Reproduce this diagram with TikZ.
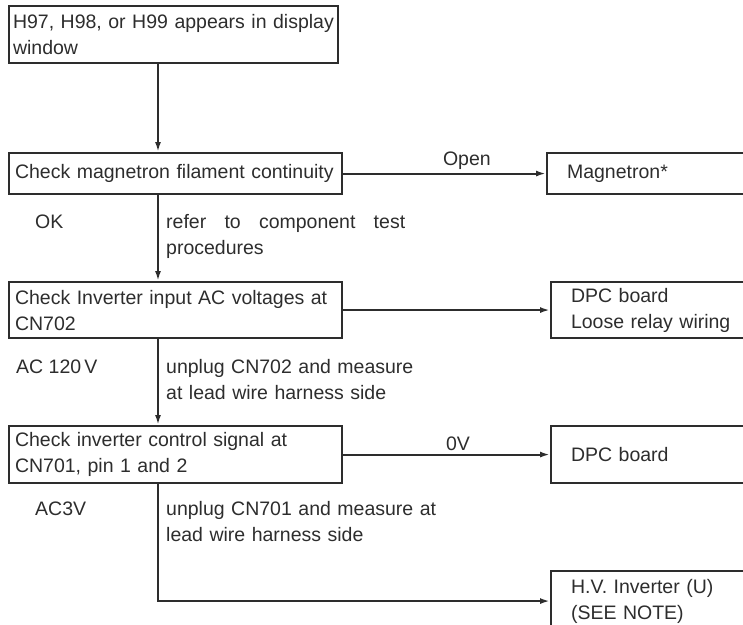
\documentclass[tikz,border=0pt]{standalone}
\usepackage{fontspec}
\setmainfont{Liberation Sans}
\usetikzlibrary{arrows.meta,positioning}
\definecolor{chartgray}{RGB}{45,45,45}

\begin{document}
\begin{tikzpicture}[x=1pt,y=-1pt,
        every node/.style={font=\fontsize{19.5}{26}\selectfont,text=chartgray},
        box/.style={draw=chartgray,line width=2.1pt,anchor=north west,
                    align=left,inner xsep=6pt,inner ysep=0pt},
        res/.style={box,inner xsep=19pt},
        note/.style={anchor=base west,align=left,inner sep=0pt},
        arr/.style={draw=chartgray,line width=2.1pt,-{Latex[length=10pt,width=6pt]}}]
      \clip (0,0) rectangle (743,624);
      \node[box,inner xsep=4pt,minimum width=329,minimum height=57,text width=321] (disp) at (8,5)
            {H97, H98, or H99 appears in display\\window};
      \node[box,minimum width=333,minimum height=41,text width=321] (fil) at (8,152)
            {Check magnetron filament continuity};
      \node[box,minimum width=333,minimum height=56,text width=321] (acv) at (8,281)
            {Check Inverter input AC voltages at\\CN702};
      \node[box,minimum width=333,minimum height=57,text width=321] (ctl) at (8,425)
            {Check inverter control signal at\\CN701, pin 1 and 2};
      \node[res,minimum width=210,minimum height=41,text width=170] (mag)  at (546,152) {Magnetron*};
      \node[res,minimum width=210,minimum height=56,text width=170] (dpca) at (550,281)
            {DPC board\\Loose relay wiring};
      \node[res,minimum width=210,minimum height=57,text width=170] (dpcb) at (550,425) {DPC board};
      \node[res,minimum width=210,minimum height=60,text width=170] (hvi)  at (550,570)
            {H.V. Inverter (U)\\(SEE NOTE)};
      % side notes
      \node[note] (ok)   at (35,228)  {OK};
      \node[note,text width=260] (refer) at (166,228)
            {\hbox to 239pt{refer\hfill to\hfill component\hfill test}\\procedures};
      \node[note] (ac120) at (16,373) {AC 120\,V};
      \node[note,text width=280] (unpa) at (166,373)
            {unplug CN702 and measure\\at lead wire harness side};
      \node[note] (ac3) at (35,515) {AC3V};
      \node[note,text width=290] (unpb) at (166,515)
            {unplug CN701 and measure at\\lead wire harness side};
      % connectors
      \coordinate (spine) at (158,0);
      \foreach \a/\b in {disp/fil,fil/acv,acv/ctl}{
        \draw[arr] (\a.south -| spine) -- (\b.north -| spine);
      }
      \draw[arr] (fil.east) -- node[above,pos=0.61,inner sep=3pt] (open) {Open} (mag.west);
      \draw[arr] (acv.east) -- (dpca.west);
      \draw[arr] (ctl.east) -- node[above,pos=0.555,inner sep=3pt] (zero) {0V} (dpcb.west);
      \draw[arr] (ctl.south -| spine) |- (hvi.west);
    \end{tikzpicture}
\end{document}
